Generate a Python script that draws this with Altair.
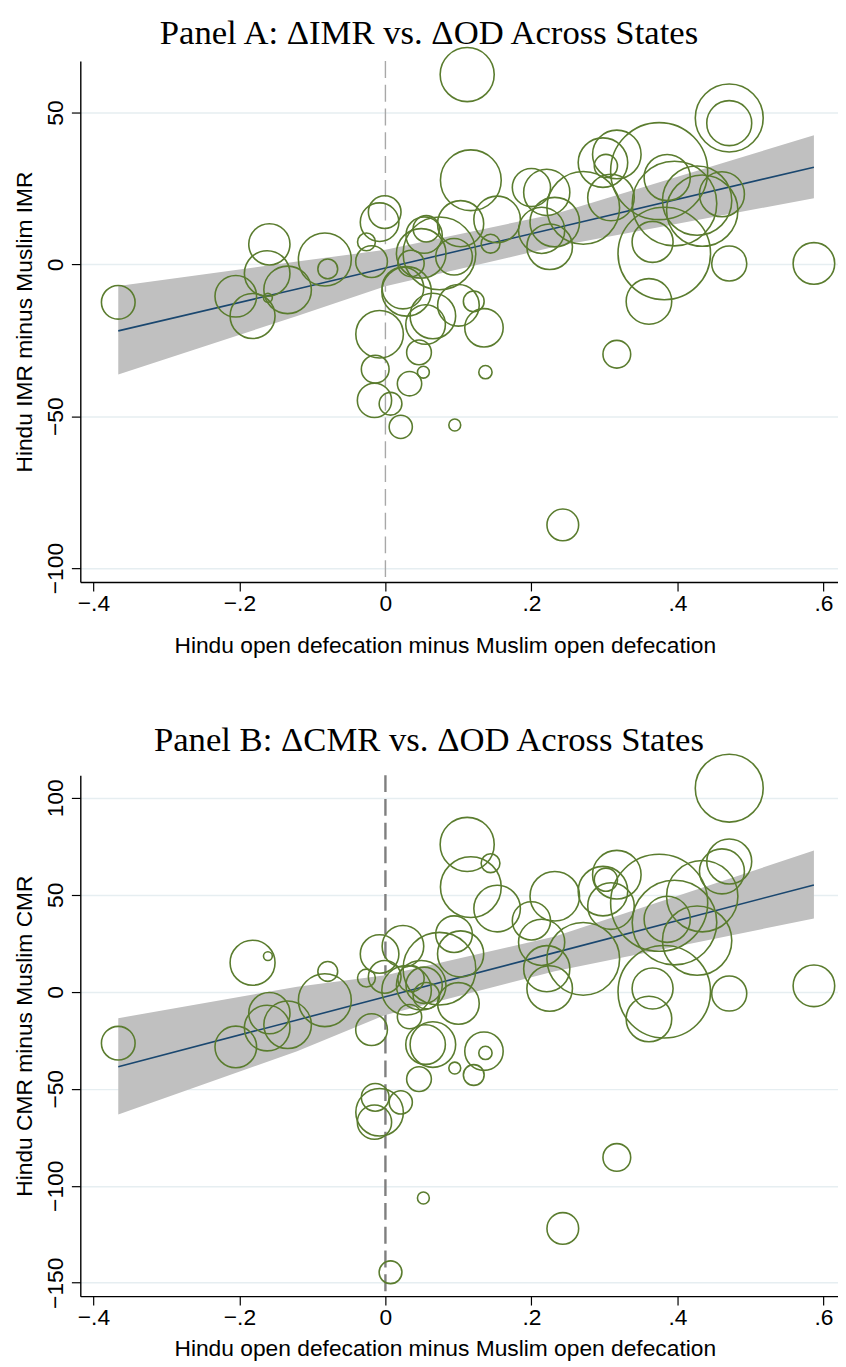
import altair as alt
import pandas as pd

# ---- data (one entry per state) ----
od_gap = [-0.366, -0.205, -0.182, -0.161, -0.159, -0.162, -0.134, -0.083, -0.079, -0.026,
          -0.019, -0.008, -0.001, -0.008, -0.014, -0.015, 0.007, 0.021, 0.046, 0.033,
          0.052, 0.095, 0.135, 0.137, 0.121, 0.317, 0.361, 0.243, 0.112, 0.471,
          0.471, 0.117, 0.103, 0.153, 0.144, 0.094, 0.200, 0.221, 0.214, 0.232,
          0.225, 0.298, 0.317, 0.302, 0.309, 0.375, 0.386, 0.427, 0.461, 0.434,
          0.382, 0.366, 0.471, 0.587, 0.055, 0.065, 0.100, 0.074, 0.024, 0.029,
          0.035, 0.049, 0.053, 0.056, 0.271, 0.396]
pop_weight = [289, 441, 515, 20, 433, 529, 576, 713, 100, 81,
              256, 380, 272, 576, 196, 299, 132, 137, 156, 151,
              36, 36, 376, 45, 110, 196, 529, 256, 745, 1176,
              515, 942, 543, 552, 90, 342, 372, 543, 543, 625,
              529, 625, 600, 137, 552, 2401, 543, 1225, 515, 1296,
              2181, 428, 313, 441, 400, 529, 441, 1347, 441, 625,
              177, 625, 335, 177, 1347, 1823]
imr_gap = [-12.5, -10.5, -17.0, -11.0, 6.6, -3.0, -8.4, 1.6, -1.5, 7.4,
           0.9, 13.9, 17.2, -23.0, -34.5, -44.8, -45.9, -53.5, -29.0, -39.3,
           -35.5, -52.9, -20.9, -35.5, -12.2, -29.6, -12.2, -85.8, 62.5, 48.2,
           46.5, 27.7, 13.4, 14.8, 6.8, 2.5, 25.3, 23.7, 11.2, 13.9,
           5.8, 33.5, 36.2, 32.4, 22.0, 30.7, 28.6, 21.0, 23.1, 17.7,
           3.6, 7.4, 0.3, 0.3, -19.8, -17.0, -13.5, 3.6, -7.8, -8.9,
           0.3, 3.6, 9.6, 11.7, 18.6, 20.0]
cmr_gap = [-26.5, -28.4, 15.0, 18.4, -11.0, -18.7, -17.0, -4.3, 10.5, 7.1,
           -19.5, 19.5, 7.7, -62.1, -54.4, -67.2, -144.6, -57.0, -45.0, -12.8,
           -106.3, -39.3, -30.6, -31.5, -42.9, -85.4, -14.0, -122.0, 76.0, 105.0,
           67.2, 54.0, 19.5, 42.9, 66.3, 29.7, 36.6, 11.9, 25.5, 49.3,
           1.7, 51.9, 60.4, 57.8, 44.2, 45.9, 37.4, 26.4, 62.1, 49.3,
           0.0, 1.7, -0.9, 3.1, -27.2, -27.2, -6.0, 11.9, 23.5, 0.8,
           6.8, 3.4, 3.4, -2.0, 17.0, 35.7]

# ---- fitted line and 95% CI ----
fit_od = [-0.366, -0.121, 0.0, 0.232, 0.587]
imr_fit = [-21.9, -8.1, -1.2, 11.9, 32.0]
imr_lo = [-36.3, -17.0, -7.2, 5.8, 21.8]
imr_hi = [-7.1, 0.9, 4.8, 16.6, 42.5]
cmr_fit = [-38.6, -14.5, -2.6, 20.2, 55.1]
cmr_lo = [-63.3, -30.6, -11.9, 10.6, 37.8]
cmr_hi = [-13.6, 2.6, 8.5, 28.5, 72.8]

x_ticks = [-0.4, -0.2, 0.0, 0.2, 0.4, 0.6]

pts = pd.DataFrame({"od": od_gap, "w": pop_weight, "imr": imr_gap, "cmr": cmr_gap})
fit = pd.DataFrame({"od": fit_od, "imr_fit": imr_fit, "imr_lo": imr_lo, "imr_hi": imr_hi,
                    "cmr_fit": cmr_fit, "cmr_lo": cmr_lo, "cmr_hi": cmr_hi})
zero = pd.DataFrame({"od": [0.0]})

GREEN = "#5a7c2e"
NAVY = "#1a476f"
BAND = "#c0c0c0"
SANS = "Liberation Sans"
SERIF = "Liberation Serif"
XTITLE = "Hindu open defecation minus Muslim open defecation"
W, H = 765, 526
wmax = max(pop_weight)


def panel(title, key, ytitle, yticks, ydom, rule_color, rule_width, title_y, xtitle_pad):
    xs = alt.Scale(domain=[-0.418, 0.62], nice=False, zero=False)
    ys = alt.Scale(domain=ydom, nice=False, zero=False)
    xax = alt.Axis(values=x_ticks, grid=False, title=XTITLE, titleX=368,
                   labelExpr="datum.value == 0 ? '0' : replace(format(datum.value, '.1f'), '0.', '.')",
                   labelPadding=2, titlePadding=xtitle_pad)
    yax = alt.Axis(values=yticks, grid=True, title=ytitle, labelAngle=270,
                   labelAlign="center", labelBaseline="bottom", labelPadding=4,
                   titlePadding=8, format="d")
    x = alt.X("od:Q", scale=xs, axis=xax)

    rule = alt.Chart(zero).mark_rule(color=rule_color, strokeWidth=rule_width,
                                     strokeDash=[17, 7]).encode(x=x)
    band = alt.Chart(fit).mark_area(color=BAND, opacity=1).encode(
        x=x, y=alt.Y(f"{key}_lo:Q", scale=ys, axis=yax), y2=f"{key}_hi:Q")
    line = alt.Chart(fit).mark_line(color=NAVY, strokeWidth=1.6).encode(
        x=x, y=alt.Y(f"{key}_fit:Q", scale=ys, axis=yax))
    dots = alt.Chart(pts).mark_point(shape="circle", filled=False, color=GREEN,
                                     strokeWidth=1.6, opacity=1).encode(
        x=x, y=alt.Y(f"{key}:Q", scale=ys, axis=yax),
        size=alt.Size("w:Q", scale=alt.Scale(domain=[0, wmax], range=[0, 4 * wmax]),
                      legend=None))
    head = alt.Chart(pd.DataFrame({"label": [title]})).mark_text(
        font=SERIF, fontSize=35, color="black", align="center", baseline="alphabetic"
    ).encode(text="label:N", x=alt.value(352), y=alt.value(title_y))
    return alt.layer(rule, band, line, dots, head).properties(width=W, height=H)


a = panel("Panel A: \u0394IMR vs. \u0394OD Across States", "imr", "Hindu IMR minus Muslim IMR",
          [-100, -50, 0, 50], [-104.6, 66.95], "#a8a8a8", 1.4, -17.5, 19)
b = panel("Panel B: \u0394CMR vs. \u0394OD Across States", "cmr", "Hindu CMR minus Muslim CMR",
          [-150, -100, -50, 0, 50, 100], [-156.9, 111.7], "#7f7f7f", 2.4, -24, 8)

chart = alt.vconcat(a, b, spacing=67).properties(
    padding={"left": 5, "top": 1, "right": 0, "bottom": 0}, background="white"
).configure_view(stroke=None).configure_axis(
    domainColor="black", domainWidth=1.4, tickColor="black", tickWidth=1.2, tickSize=9,
    labelFont=SANS, labelFontSize=23, labelColor="black",
    titleFont=SANS, titleFontSize=23, titleFontWeight="normal", titleColor="black",
    gridColor="#e6eef1", gridWidth=1.5
)

chart.save("out.html", embed_options={"renderer": "svg", "actions": False})
